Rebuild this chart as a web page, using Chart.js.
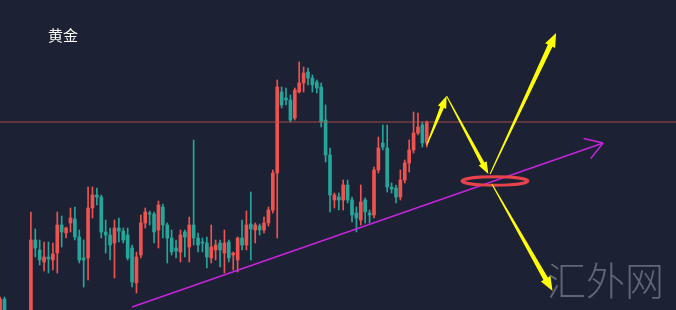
<!DOCTYPE html>
<html>
<head>
<meta charset="utf-8">
<script src="https://cdn.jsdelivr.net/npm/chart.js@4.4.0/dist/chart.umd.min.js"></script>
<style>
  html, body { margin: 0; padding: 0; background: #1c2234; }
  #wrap { width: 676px; height: 310px; }
</style>
</head>
<body>
<div id="wrap"><canvas id="myChart" width="676" height="310"></canvas></div>
<script>
// DADOS - candles (unidade de preço arbitrária, maior = mais alto)
const opens  = [-2, 11, null, null, null, null, null, -8, 70, 60, 48, 53, 50, 57, 85, 77, 87, 91, 73, 52, 52, 102, 115, 113, 78, 75, 67, 82, 79, 75, 62, 27, 55, 87, 97, 96, 80, 103, 85, 72, 62, 58, 78, 63, 85, 72, 68, 67, 52, 60, 67, 57, 68, 55, 50, 72, 65, 86, 80, 84, 80, 87, 100, 137, 218, 212, 210, 192, 218, 227, 238, 232, 228, 223, 190, 155, 110, 113, 110, 125, 110, 97, 90, 110, 97, 95, 140, 167, 162, 123, 122, 113, 130, 147, 160, 177, 185, 167];
const highs  = [13, 13, null, null, null, null, null, 98, 81, 70, 68, 68, 67, 98, 94, 83, 102, 103, 80, 70, 123, 123, 122, 115, 90, 82, 90, 92, 82, 82, 65, 58, 95, 102, 99, 98, 109, 106, 87, 80, 70, 80, 80, 93, 170, 77, 72, 73, 85, 70, 70, 80, 70, 58, 73, 90, 99, 118, 87, 86, 93, 103, 140, 230, 223, 222, 215, 222, 248, 243, 242, 235, 230, 227, 205, 162, 117, 117, 130, 130, 113, 103, 125, 112, 100, 143, 173, 185, 185, 127, 125, 140, 150, 170, 198, 197, 188, 189];
const lows   = [-5, -5, null, null, null, null, null, -12, 53, 45, 39, 37, 40, 37, 63, 72, 78, 70, 47, 23, 30, 92, 105, 72, 57, 50, 32, 68, 67, 50, 23, 17, 52, 82, 85, 67, 62, 72, 47, 55, 52, 48, 53, 48, 65, 58, 58, 42, 47, 50, 43, 37, 48, 40, 38, 60, 60, 50, 67, 75, 77, 84, 97, 72, 202, 205, 188, 190, 217, 218, 225, 218, 217, 183, 148, 98, 102, 100, 100, 107, 88, 78, 85, 87, 87, 92, 137, 160, 118, 117, 107, 110, 127, 138, 157, 175, 163, 163];
const closes = [11, -2, null, null, null, null, null, 70, 62, 50, 53, 51, 56, 85, 78, 82, 92, 73, 50, 50, 102, 115, 113, 78, 75, 65, 82, 79, 70, 52, 28, 53, 87, 98, 96, 78, 105, 85, 72, 58, 59, 75, 73, 85, 72, 65, 67, 53, 63, 65, 60, 67, 52, 57, 72, 65, 85, 81, 85, 80, 87, 100, 137, 223, 205, 210, 190, 220, 227, 237, 232, 225, 222, 188, 155, 115, 115, 110, 125, 110, 95, 92, 108, 98, 95, 140, 162, 163, 123, 121, 113, 130, 147, 160, 177, 183, 167, 188];

// linha horizontal (resistência)
const levelPrice = 188;
// linha de tendência [índice, preço]
const trendStart = [30.0, 3];
const trendEnd = [137.1, 167];
// setas amarelas [de, para]
const arrowFrom = [[97.0, 165], [101.5, 214], [111.4, 136], [111.8, 126]];
const arrowTo   = [[101.5, 214], [111.0, 136], [126.4, 277], [125.6, 19]];
// elipse vermelha
const ringCenter = [112.5, 129];
const titleText = '黄金';
const watermarkText = '汇外网';

const upColor = '#ef5350';
const downColor = '#26a69a';

const wickData = [];
const bodyData = [];
const candleColors = [];
opens.forEach((o, i) => {
    if (o === null) return;
    const c = closes[i];
    wickData.push({x: i, y: [lows[i], highs[i]]});
    bodyData.push({x: i, y: [Math.min(o, c), Math.max(o, c)]});
    candleColors.push(c >= o ? upColor : downColor);
});

function taperedArrow(ctx, a, b, w0, w1, headLen, headW) {
    const dx = b[0] - a[0], dy = b[1] - a[1];
    const len = Math.hypot(dx, dy);
    const ux = dx / len, uy = dy / len, nx = -uy, ny = ux;
    const bx = b[0] - ux * headLen, by = b[1] - uy * headLen;
    ctx.beginPath();
    ctx.moveTo(a[0] + nx * w0 / 2, a[1] + ny * w0 / 2);
    ctx.lineTo(bx + nx * w1 / 2, by + ny * w1 / 2);
    ctx.lineTo(bx + nx * headW / 2, by + ny * headW / 2);
    ctx.lineTo(b[0], b[1]);
    ctx.lineTo(bx - nx * headW / 2, by - ny * headW / 2);
    ctx.lineTo(bx - nx * w1 / 2, by - ny * w1 / 2);
    ctx.lineTo(a[0] - nx * w0 / 2, a[1] - ny * w0 / 2);
    ctx.closePath();
    ctx.fill();
}

const drawings = {
    id: 'drawings',
    afterDatasetsDraw(chart) {
        const ctx = chart.ctx;
        const xs = chart.scales.x, ys = chart.scales.y;
        const px = p => [xs.getPixelForValue(p[0]), ys.getPixelForValue(p[1])];
        ctx.save();

        // cabeça da linha de tendência
        const s = px(trendStart), e = px(trendEnd);
        const ang = Math.atan2(e[1] - s[1], e[0] - s[0]) + Math.PI;
        ctx.strokeStyle = '#c624dc';
        ctx.lineWidth = 1.5;
        ctx.beginPath();
        [0.56, -0.56].forEach(d => {
            ctx.moveTo(e[0], e[1]);
            ctx.lineTo(e[0] + Math.cos(ang + d) * 20, e[1] + Math.sin(ang + d) * 20);
        });
        ctx.stroke();

        // elipse
        const rc = px(ringCenter);
        ctx.strokeStyle = '#e8424c';
        ctx.lineWidth = 3;
        ctx.beginPath();
        ctx.ellipse(rc[0], rc[1], 33, 4.2, 0, 0, Math.PI * 2);
        ctx.stroke();

        // marca d'água
        ctx.fillStyle = 'rgba(112,120,134,0.8)';
        ctx.font = '300 39px "Noto Sans CJK SC"';
        ctx.textBaseline = 'alphabetic';
        ctx.fillText(watermarkText, 547, 295);

        // setas
        ctx.fillStyle = '#ffff00';
        arrowFrom.forEach((f, k) => {
            const big = k >= 2;
            taperedArrow(ctx, px(f), px(arrowTo[k]), 1, big ? 5 : 4, big ? 14 : 12, big ? 11 : 9);
        });

        // título
        ctx.fillStyle = '#ffffff';
        ctx.font = '15px "Noto Sans CJK SC"';
        ctx.fillText(titleText, 48, 41);
        ctx.restore();
    }
};

const ctx = document.getElementById('myChart').getContext('2d');
const myChart = new Chart(ctx, {
    type: 'bar',
    data: {
        datasets: [
            {
                type: 'line',
                data: [{x: -1, y: levelPrice}, {x: 200, y: levelPrice}],
                borderColor: 'rgba(190,80,70,0.85)',
                borderWidth: 1,
                pointRadius: 0,
                order: 0
            },
            {
                type: 'line',
                data: [{x: trendStart[0], y: trendStart[1]}, {x: trendEnd[0], y: trendEnd[1]}],
                borderColor: '#c624dc',
                borderWidth: 1.5,
                pointRadius: 0,
                order: 0
            },
            {
                data: bodyData,
                backgroundColor: candleColors,
                barThickness: 3,
                minBarLength: 1,
                grouped: false,
                order: 1
            },
            {
                data: wickData,
                backgroundColor: candleColors,
                barThickness: 1,
                grouped: false,
                order: 2
            }
        ]
    },
    options: {
        responsive: false,
        animation: false,
        devicePixelRatio: 1,
        events: [],
        layout: { padding: 0 },
        scales: {
            x: { type: 'linear', min: -0.023, max: 153.66, offset: false, display: false },
            y: { type: 'linear', min: 0, max: 310, display: false }
        },
        plugins: {
            legend: { display: false },
            tooltip: { enabled: false }
        }
    },
    plugins: [drawings]
});
</script>
</body>
</html>
